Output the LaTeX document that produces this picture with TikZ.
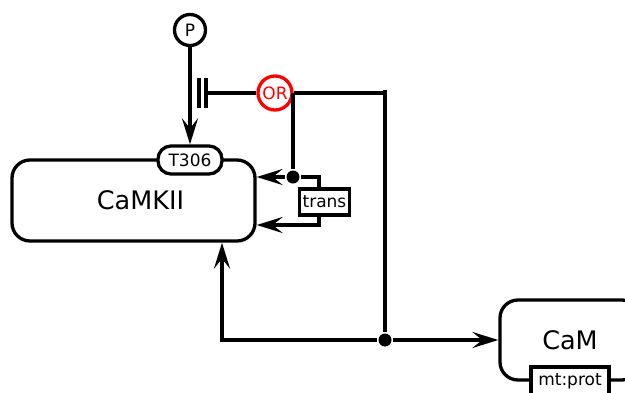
\documentclass[tikz,border=0pt]{standalone}
\usepackage{fontspec}
\setmainfont{DejaVu Sans}
\usetikzlibrary{arrows.meta}
\begin{document}
\begin{tikzpicture}[x=1pt,y=-1pt,line width=3.3pt,
  tip/.style={-{Stealth[length=26pt,width=16pt,inset=10pt]}},
  ent/.style={draw,rounded corners=18pt,minimum width=243pt,minimum height=81pt,font=\fontsize{25.5}{28}\selectfont,inner sep=0pt},
  pill/.style={draw,fill=white,rounded corners=13pt,minimum width=64pt,minimum height=28pt,inner sep=0pt,font=\fontsize{17}{19}\selectfont},
  lbl/.style={draw,fill=white,minimum height=26pt,inner sep=3pt,font=\fontsize{17}{19}\selectfont},
  circ/.style={draw,circle,minimum size=31pt,inner sep=0pt,font=\fontsize{17}{19}\selectfont},
  dotn/.style={circle,fill,minimum size=13pt,inner sep=0pt}]
\useasboundingbox (0,0) rectangle (625,392);
% entities
\node[ent] (camkii) at (133.5,200.5) {\hspace{14pt}CaMKII};
\node[pill] (t306) at (190,160) {T306};
\node[ent,minimum width=140pt,minimum height=80pt] (cam) at (570,340) {\raisebox{-3pt}{CaM}};
\node[lbl,minimum width=78pt,minimum height=28pt,inner sep=1pt] (mt) at (570,381) {mt:prot};
% logic
\node[circ] (p) at (190,30) {P};
\node[circ,draw=red,text=red,minimum size=34pt] (or) at (275,93) {OR};
\node[dotn] (dota) at (293,177) {};
\node[dotn] (dotb) at (385,340) {};
\coordinate (inh) at (206,93);
\coordinate (rt) at (385,93);
\coordinate (rtt) at (385,89.5);
\coordinate (tr1) at (319,177);
\coordinate (tr2) at (319,225);
\coordinate (bl) at (222,340);
% connectors
\draw[tip] (p) -- (t306.north);
\draw (or.west) -- (inh);
\draw (inh) ++(0,-15) -- ++(0,30);
\draw (inh) ++(-7,-15) -- ++(0,30);
\draw (or.east) -- (rt);
\draw (rtt) -- (dotb);
\draw (or.east -| dota) -- (dota);
\draw[tip] (dota) -- (dota -| camkii.east);
\draw[tip] (dota) -- (tr1) -- (tr2) -- (tr2 -| camkii.east);
\node[lbl] (trans) at (324.5,202) {trans};
\draw[tip] (dotb) -- (bl) -- (bl |- camkii.south);
\draw[tip] (dotb) -- (cam.west);
\end{tikzpicture}
\end{document}
